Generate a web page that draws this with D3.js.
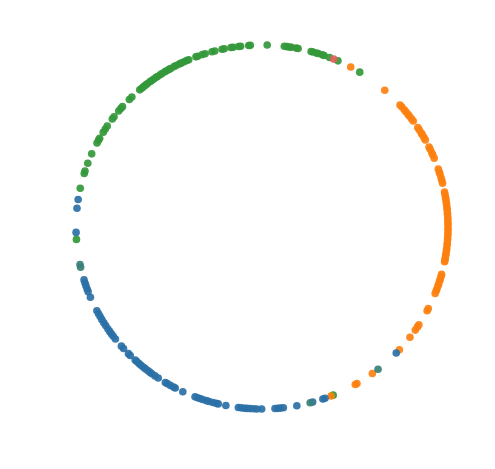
<!DOCTYPE html>
<html>
<head>
<meta charset="utf-8">
<script src="https://cdn.jsdelivr.net/npm/d3@7"></script>
<style>
  html, body { margin: 0; padding: 0; background: #fff; }
  svg { display: block; }
</style>
</head>
<body>
<svg width="495" height="469"></svg>
<script>
let svg = d3.select("svg"),
    width = +svg.attr("width"),
    height = +svg.attr("height");

// the data - angle (degrees, counter-clockwise from east) of each point on the ring
let greenAngles = [
    167.7, 162.9, 162.1, 159.5, 156.3, 152.5, 151.5, 150.8, 148.6, 147.4,
    146.3, 143.6, 142.7, 140.4, 139.4, 138.6, 135.5, 134.4, 131.1, 130.3,
    129.6, 128.8, 128.1, 127.1, 126.5, 125.7, 124.8, 124.2, 123.2, 122.5,
    121.5, 120.9, 120.0, 119.4, 118.2, 117.5, 116.4, 115.8, 114.8, 113.9,
    113.2, 110.8, 110.2, 108.7, 107.8, 105.6, 104.7, 102.4, 101.7, 99.6,
    98.9, 97.2, 96.6, 94.1, 93.6, 88.4, 83.1, 82.3, 81.5, 80.9,
    79.4, 78.8, 74.7, 74.1, 73.0, 72.4, 71.1, 70.5, 68.7, 65.9,
    58.3, -67.5, -176.1
];
let orangeAngles = [
    61.5, 48.7, 42.1, 41.2, 40.1, 39.3, 38.3, 37.6, 36.5, 35.6,
    33.1, 32.3, 31.2, 30.5, 29.4, 28.6, 26.1, 25.3, 24.1, 23.3,
    22.2, 18.6, 17.6, 16.9, 15.7, 14.9, 13.9, 11.1, 10.3, 9.3,
    8.7, 7.7, 7.1, 6.1, 5.5, 4.5, 3.9, 2.9, 2.3, 1.3,
    0.7, -0.3, -0.9, -1.9, -2.5, -3.5, -4.1, -5.1, -5.7, -6.7,
    -7.3, -8.3, -8.9, -9.9, -10.5, -11.0, -15.1, -15.7, -16.7, -17.3,
    -18.3, -18.9, -19.9, -20.5, -21.4, -26.6, -27.4, -32.5, -33.3, -34.5,
    -37.3, -42.4, -53.6, -59.3, -59.9, -68.2
];
let blueAngles = [
    -178.3, 174.1, 171.3, -163.1, -162.1, -161.2, -160.1, -159.2, -157.3, -152.6,
    -151.5, -150.5, -149.4, -148.2, -147.1, -145.9, -144.9, -144.0, -143.1, -142.0,
    -139.1, -138.1, -135.9, -135.1, -133.0, -132.3, -131.4, -130.6, -129.7, -128.9,
    -127.9, -127.1, -126.3, -125.1, -123.9, -121.3, -120.6, -119.5, -118.4, -117.8,
    -115.2, -111.1, -110.3, -109.5, -108.6, -107.4, -106.5, -105.3, -104.3, -103.6,
    -101.2, -97.3, -96.4, -95.4, -94.7, -93.7, -92.6, -91.6, -90.1, -86.0,
    -85.1, -84.3, -83.4, -79.2, -74.2, -70.9, -70.2, -43.8
];
// points whose colour sits between two groups
let mixedAngles = [-167.2, -168.1, -75.0, -51.4];
let redAngles = [67.3];

let groups = ["blue", "orange", "green", "mixed", "red"];
let points = []
    .concat(greenAngles.map(a => ({ angle: a, group: "green" })))
    .concat(orangeAngles.map(a => ({ angle: a, group: "orange" })))
    .concat(blueAngles.map(a => ({ angle: a, group: "blue" })))
    .concat(mixedAngles.map(a => ({ angle: a, group: "mixed" })))
    .concat(redAngles.map(a => ({ angle: a, group: "red" })));

let color = d3.scaleOrdinal()
    .domain(groups)
    .range(["#2a70a6", "#fd800f", "#33983a", "#3a7f78", "#e0605a"]);

// scales for the unit circle
let x = d3.scaleLinear().domain([-1, 1]).range([76, 448]);
let y = d3.scaleLinear().domain([-1, 1]).range([409, 45]);

svg.append("g")
    .attr("class", "points")
    .selectAll("circle")
    .data(points)
    .enter().append("circle")
    .attr("cx", d => x(Math.cos(d.angle * Math.PI / 180)))
    .attr("cy", d => y(Math.sin(d.angle * Math.PI / 180)))
    .attr("r", 3.8)
    .attr("fill", d => color(d.group))
    .attr("fill-opacity", 0.92);
</script>
</body>
</html>
